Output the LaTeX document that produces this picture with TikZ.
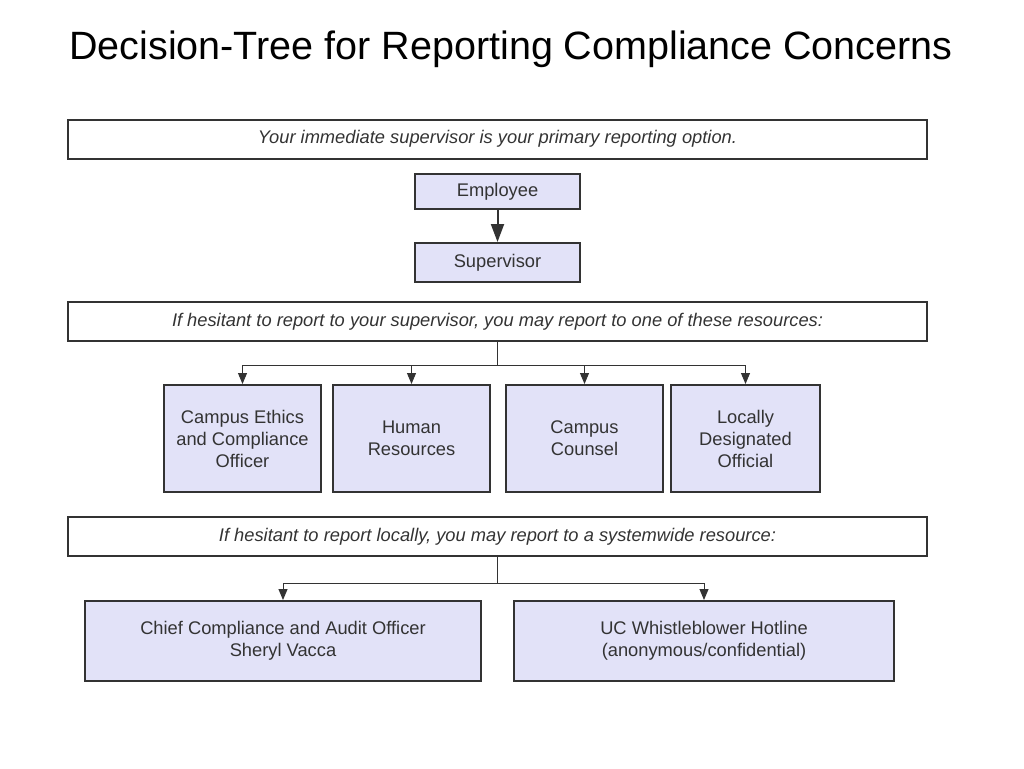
\documentclass[tikz,border=0pt]{standalone}
\usepackage{fontspec}
\setmainfont{Liberation Sans}
\usetikzlibrary{positioning, arrows.meta}
\definecolor{boxfill}{HTML}{E2E2F8}
\definecolor{linegray}{HTML}{333333}
\tikzset{
  banner/.style={draw=linegray, line width=2pt, minimum width=859pt, minimum height=39pt, font=\fontsize{18.3}{21}\selectfont\itshape, text=linegray},
  rolebox/.style={draw=linegray, line width=2pt, fill=boxfill, align=center, font=\fontsize{18.3}{22}\selectfont, text=linegray},
  arr/.style={-{Triangle[length=11pt,width=9pt]}, linegray, line width=1pt}
}
\begin{document}
\begin{tikzpicture}[x=1pt,y=-1pt]
          \useasboundingbox (0,0) rectangle (1024,768);

          \node[font=\fontsize{39.5}{44}\selectfont] (Title) at (511,49) {Decision-Tree for Reporting Compliance Concerns};

          \node[banner] (Primary) at (497.5,139) {Your immediate supervisor is your primary reporting option.};
          \node[rolebox, minimum width=165pt, minimum height=35pt] (Employee) at (497.5,191.5) {Employee};
          \node[rolebox, minimum width=165pt, minimum height=39pt] (Supervisor) at (497.5,262.5) {Supervisor};

          \node[banner] (Hesitant) at (497.5,321.5) {If hesitant to report to your supervisor, you may report to one of these resources:};
          \node[rolebox, minimum width=157pt, minimum height=107pt] (Ethics) at (242.5,438.5) {Campus Ethics\\and Compliance\\Officer};
          \node[rolebox, minimum width=157pt, minimum height=107pt] (HR) at (411.5,438.5) {Human\\Resources};
          \node[rolebox, minimum width=157pt, minimum height=107pt] (Counsel) at (584.5,438.5) {Campus\\Counsel};
          \node[rolebox, minimum width=149pt, minimum height=107pt] (Local) at (745.5,438.5) {Locally\\Designated\\Official};

          \node[banner] (Systemwide) at (497.5,536.5) {If hesitant to report locally, you may report to a systemwide resource:};
          \node[rolebox, minimum width=396pt, minimum height=80pt] (Chief) at (283,641) {Chief Compliance and Audit Officer\\Sheryl Vacca};
          \node[rolebox, minimum width=380pt, minimum height=80pt] (Hotline) at (704,641) {UC Whistleblower Hotline\\(anonymous/confidential)};

          \coordinate (Split1) at (497.5,365);
          \coordinate (Split2) at (497.5,583);

          \draw[-{Triangle[length=18pt,width=13pt]}, linegray, line width=2pt] (Employee) -- (Supervisor);

          \draw[linegray, line width=1pt] (Hesitant) -- (Split1);
          \draw[arr] (Split1) -| (Ethics);
          \draw[arr] (Split1) -| (HR);
          \draw[arr] (Split1) -| (Counsel);
          \draw[arr] (Split1) -| (Local);

          \draw[linegray, line width=1pt] (Systemwide) -- (Split2);
          \draw[arr] (Split2) -| (Chief);
          \draw[arr] (Split2) -| (Hotline);
\end{tikzpicture}
\end{document}
